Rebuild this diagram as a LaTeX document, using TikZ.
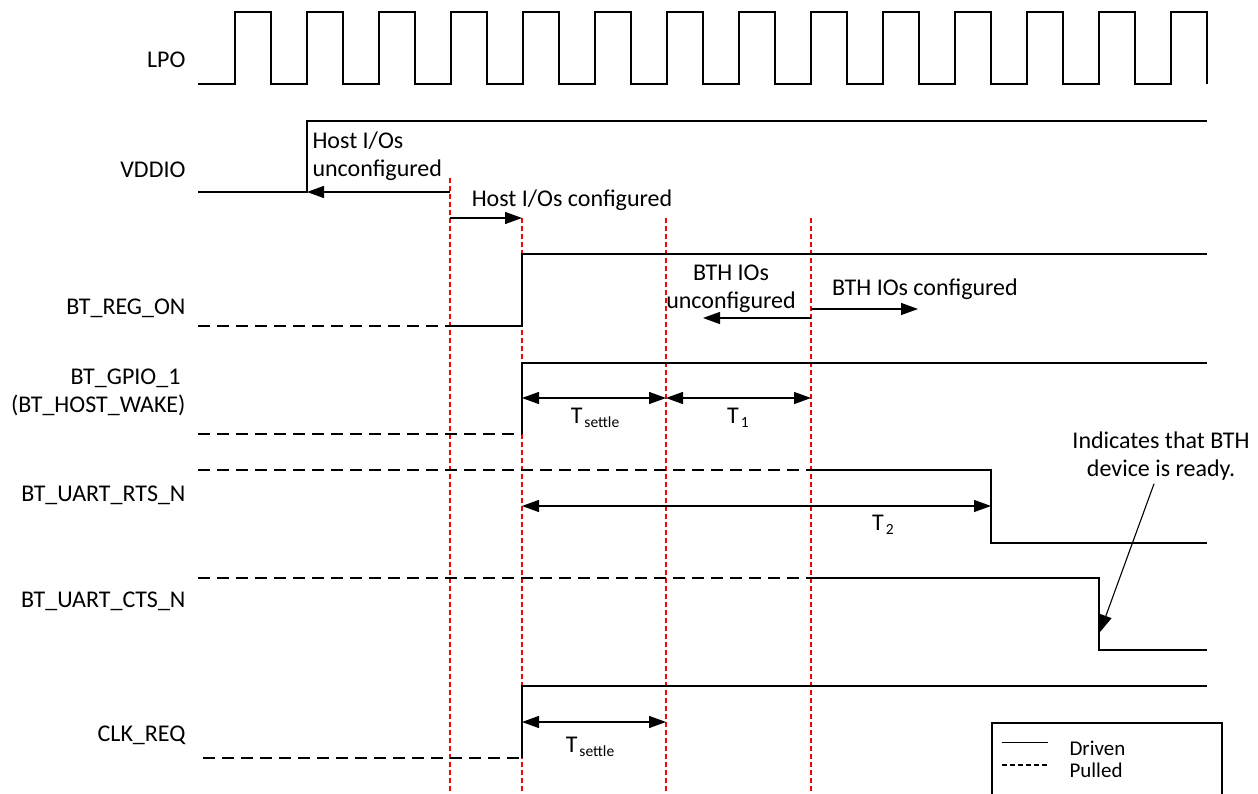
\documentclass[tikz,border=0pt]{standalone}
\usepackage{fontspec}
\setmainfont{Carlito}
\usetikzlibrary{arrows.meta,positioning,calc}
\newcommand\tsub[1]{T\kern2pt\raisebox{-4pt}{\fontsize{15.5}{17}\selectfont #1}}

\begin{document}
\begin{tikzpicture}[x=1pt,y=-1pt,>={Triangle[length=17pt,width=12pt]},font=\fontsize{24}{28}\selectfont,
sig/.style={line width=1.5pt},pull/.style={line width=1.4pt,dash pattern=on 12pt off 7pt},
redmark/.style={red,line width=1.1pt,dash pattern=on 5pt off 3pt},dim/.style={line width=1.3pt}]
\useasboundingbox (0,0) rectangle (1258,794);
\coordinate (tA) at (450,0);\coordinate (tB) at (522,0);\coordinate (tC) at (666,0);\coordinate (tD) at (811,0);
\draw[redmark](tA|-0,178)--(tA|-0,794);
\foreach \t in {tB,tC,tD}{\draw[redmark](\t|-0,218)--(\t|-0,794);}
\foreach \n/\y/\lab in {lpo/60/LPO,vddio/170/VDDIO,regon/308/BT\_REG\_ON,rts/495/BT\_UART\_RTS\_N,cts/601/BT\_UART\_CTS\_N,clkreq/735/CLK\_REQ}{
\node[anchor=east](\n)at(189,\y){\lab};}
\node[anchor=east,align=right](gpio)at(189,392){BT\_GPIO\_1\kern5pt\\(BT\_HOST\_WAKE)};
\draw[line width=1.2pt](198,84)\foreach \x in {235,307,...,1171}{--(\x,84)--(\x,12)--(\x+36,12)--(\x+36,84)};
\draw[line width=1.2pt](198,192)--(307,192)--(307,121)--(1207,121);
\draw[pull](198,326)--(tA|-0,326);\draw[sig](tA|-0,326)--(tB|-0,326)--(tB|-0,254)--(1207,254);
\draw[pull](198,434)--(tB|-0,434);\draw[sig](tB|-0,434)--(tB|-0,363)--(1207,363);
\draw[pull](198,470)--(tD|-0,470);\draw[sig](tD|-0,470)--(991,470)--(991,543)--(1207,543);
\draw[pull](198,578)--(tD|-0,578);\draw[sig](tD|-0,578)--(1099,578)--(1099,650)--(1207,650);
\draw[pull](203,758)--(tB|-0,758);\draw[sig](tB|-0,758)--(tB|-0,686)--(1207,686);
\coordinate (vup) at (307,192);\coordinate (bthun) at (703,318);\coordinate (bthcf) at (918,309);
\coordinate (rtsfall) at (991,506);\coordinate (ctsfall) at (1100,632);
\node[anchor=west,align=left](hostun)at(309,156){Host I/Os\\unconfigured};
\node(hostcf)at(572,200){Host I/Os configured};
\draw[dim,->](tA|-0,192)--(vup);
\draw[dim,->](tA|-0,218)--(tB|-0,218);
\node[align=center](bthunl)at(731,289){BTH IOs\\unconfigured};
\node(bthcfl)at(925,289){BTH IOs configured};
\draw[dim,->](tD|-0,318)--(bthun);
\draw[dim,->](tD|-0,309)--(bthcf);
\draw[dim,<->](tB|-0,398)--(tC|-0,398);
\draw[dim,<->](tC|-0,398)--(tD|-0,398);
\node(ts1)at(595,418){\tsub{settle}};
\node(t1)at(738,418){\tsub{1}};
\draw[dim,<->](tB|-0,506)--(rtsfall);
\node(t2)at(883,525){\tsub{2}};
\draw[dim,<->](tB|-0,722)--(tC|-0,722);
\node(ts2)at(590,747){\tsub{settle}};
\node[align=center](ind)at(1161,456){Indicates that BTH\\device is ready.};
\draw[line width=1.1pt,->]([xshift=-7pt]ind.south)--(ctsfall);
\draw[line width=1.1pt](992,794)--(992,723)--(1222,723)--(1222,794);
\draw[line width=1pt](1002,742)--(1048,742);
\draw[line width=1.5pt,dash pattern=on 5pt off 3pt](1002,765)--(1048,765);
\node[anchor=west,font=\fontsize{21}{24}\selectfont](drv)at(1066,748){Driven};
\node[anchor=west,font=\fontsize{21}{24}\selectfont](pld)at(1066,770){Pulled};
\end{tikzpicture}
\end{document}
